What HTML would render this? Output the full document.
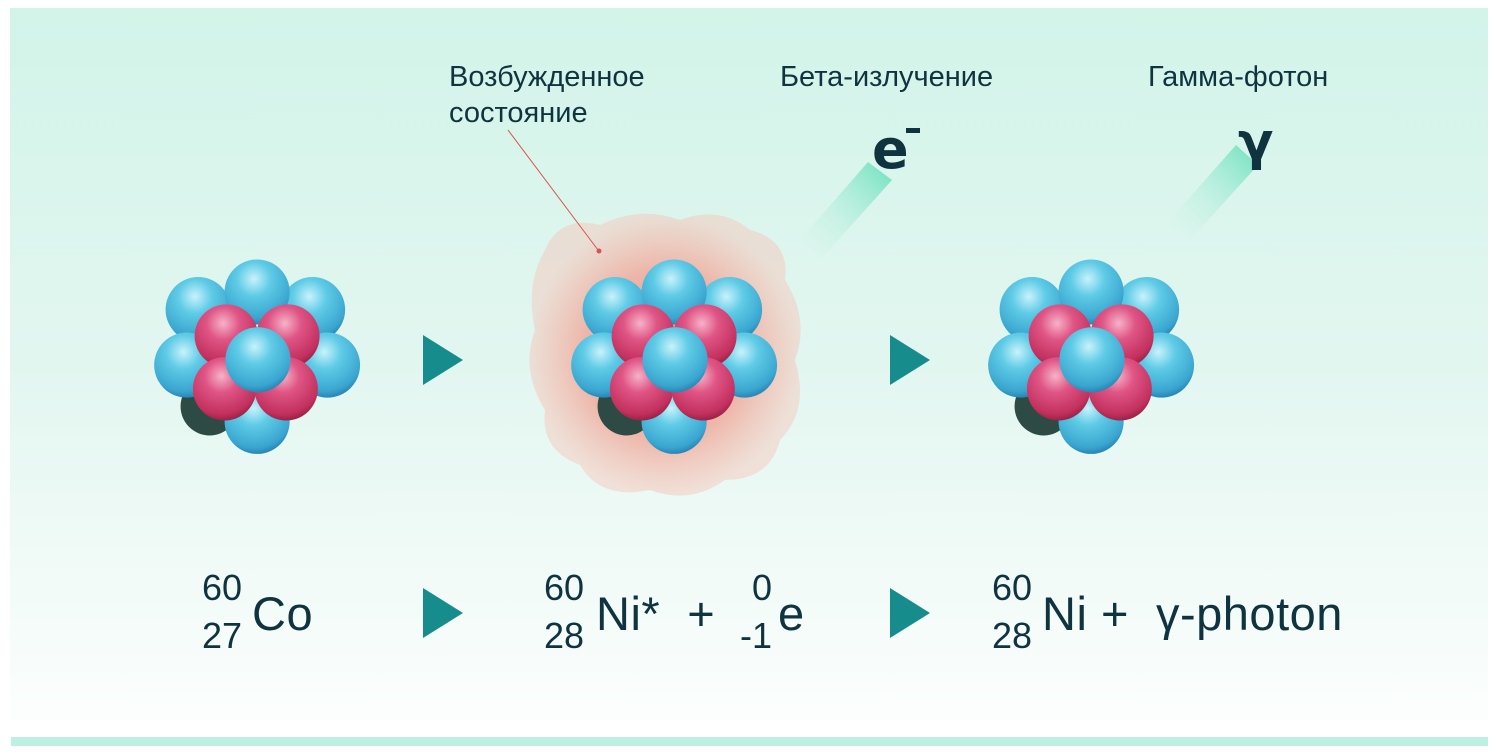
<!DOCTYPE html>
<html><head><meta charset="utf-8"><style>
body{margin:0;width:1496px;height:754px;background:#fff;position:relative;overflow:hidden;font-family:"Liberation Sans",sans-serif;color:#0f3440}
.panel{position:absolute;left:10px;top:8px;width:1478px;height:712px;background:linear-gradient(#d2f4e9 0%,#e2f6f0 50%,#fcfefd 100%)}
.strip{position:absolute;left:11px;top:737px;width:1477px;height:9px;background:#bdf0e2}
.t{position:absolute;white-space:nowrap}
.lab{font-size:29px;line-height:36px}
.f{font-size:47px;top:586px;letter-spacing:0.5px}
.ss{position:absolute;font-size:36px;line-height:36px;text-align:right}
</style></head><body>
<div class="panel"></div>
<div class="strip"></div>
<svg width="1496" height="754" style="position:absolute;left:0;top:0">
<defs>
<radialGradient id="b" cx="0.45" cy="0.3" r="0.75"><stop offset="0" stop-color="#c8f2fb"/><stop offset="0.35" stop-color="#5fcbe6"/><stop offset="0.8" stop-color="#3aa6d0"/><stop offset="1" stop-color="#1f76a8"/></radialGradient>
<radialGradient id="r" cx="0.45" cy="0.3" r="0.75"><stop offset="0" stop-color="#f7b2c8"/><stop offset="0.35" stop-color="#df5585"/><stop offset="0.8" stop-color="#c2305e"/><stop offset="1" stop-color="#8a1a3c"/></radialGradient>
<radialGradient id="glow" cx="0.5" cy="0.5" r="0.5"><stop offset="0" stop-color="#e88a7a"/><stop offset="0.6" stop-color="#f0aa9c"/><stop offset="1" stop-color="#f5c9bd" stop-opacity="0.6"/></radialGradient>
<linearGradient id="tr" x1="1" y1="0" x2="0" y2="1"><stop offset="0" stop-color="#6de0bd"/><stop offset="1" stop-color="#d6f5ea" stop-opacity="0"/></linearGradient>
<g id="nuc" transform="scale(0.88)">
<circle cx="-55" cy="55" r="33" fill="#2e4a44"/>
<circle cx="-68" cy="-55" r="37" fill="url(#b)"/>
<circle cx="62" cy="-55" r="37" fill="url(#b)"/>
<circle cx="-1" cy="-75" r="37" fill="url(#b)"/>
<circle cx="-81" cy="8" r="37" fill="url(#b)"/>
<circle cx="79" cy="8" r="37" fill="url(#b)"/>
<circle cx="-1" cy="72" r="37" fill="url(#b)"/>
<circle cx="-36" cy="-25" r="36" fill="url(#r)"/>
<circle cx="34" cy="-25" r="36" fill="url(#r)"/>
<circle cx="-38" cy="35" r="36" fill="url(#r)"/>
<circle cx="32" cy="35" r="36" fill="url(#r)"/>
<circle cx="0" cy="2" r="37" fill="url(#b)"/>
</g>
</defs>
<path d="M545,250 Q560,215 600,225 Q640,205 680,220 Q720,205 750,230 Q790,240 785,280 Q810,320 795,360 Q810,410 780,440 Q770,480 725,480 Q690,505 650,490 Q600,500 580,465 Q540,450 545,410 Q520,370 535,330 Q525,285 545,250Z" fill="url(#glow)" opacity="0.85"/>
<line x1="508" y1="130" x2="598" y2="250" stroke="#d9534f" stroke-width="1"/>
<circle cx="599" cy="251" r="2.5" fill="#d9534f"/>
<polygon points="868,162 892,180 822,258 800,240" fill="url(#tr)"/>
<polygon points="1236,145 1258,165 1190,240 1168,222" fill="url(#tr)"/>
<use href="#nuc" x="258" y="358"/>
<use href="#nuc" x="675" y="358"/>
<use href="#nuc" x="1092" y="358"/>
<g fill="#168c8c">
<polygon points="423,335 463,360 423,385"/>
<polygon points="890,335 930,360 890,385"/>
<polygon points="423,588 463,613 423,638"/>
<polygon points="890,588 930,613 890,638"/>
</g>
</svg>
<div class="t lab" style="left:449px;top:59px">Возбужденное<br>состояние</div>
<div class="t lab" style="left:780px;top:59px">Бета-излучение</div>
<div class="t lab" style="left:1148px;top:59px">Гамма-фотон</div>
<div class="t" style="left:872px;top:118px;font-size:54px;font-weight:bold;font-family:'DejaVu Sans',sans-serif">e</div>
<div class="t" style="left:906px;top:128px;width:14px;height:5px;background:#0f3440"></div>
<div class="t" style="left:1238px;top:112px;font-size:52px;font-weight:bold;font-family:'DejaVu Sans',sans-serif">γ</div>

<div class="ss" style="left:188px;top:570px;width:54px">60</div>
<div class="ss" style="left:188px;top:618px;width:54px">27</div>
<div class="t f" style="left:252px">Co</div>

<div class="ss" style="left:530px;top:570px;width:54px">60</div>
<div class="ss" style="left:530px;top:618px;width:54px">28</div>
<div class="t f" style="left:596px">Ni*&nbsp; +</div>
<div class="ss" style="left:740px;top:570px;width:32px">0</div>
<div class="ss" style="left:730px;top:618px;width:42px">-1</div>
<div class="t f" style="left:778px">e</div>

<div class="ss" style="left:978px;top:570px;width:54px">60</div>
<div class="ss" style="left:978px;top:618px;width:54px">28</div>
<div class="t f" style="left:1042px">Ni + &nbsp;γ-photon</div>
</body></html>
